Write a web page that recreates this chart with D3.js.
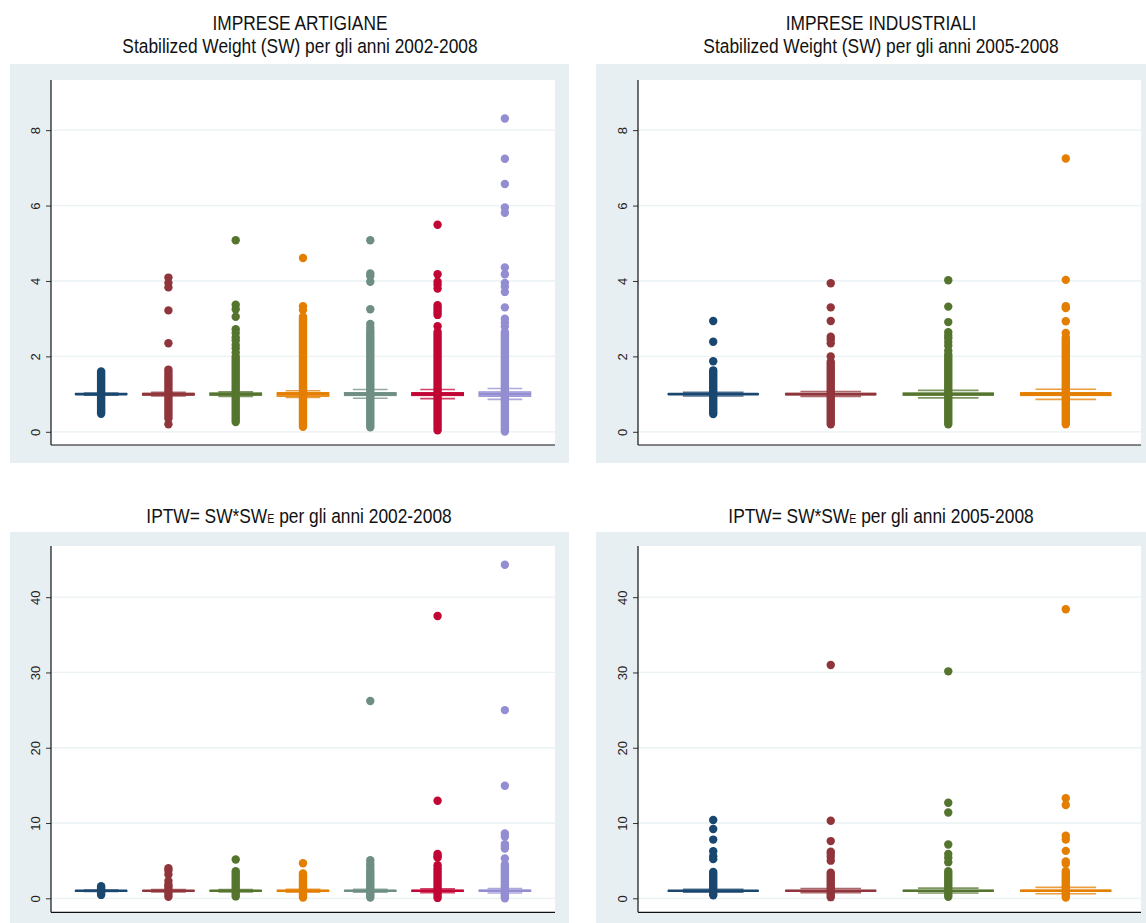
<!DOCTYPE html>
<html>
<head>
<meta charset="utf-8">
<script src="https://cdn.jsdelivr.net/npm/d3@7"></script>
<style>
  body { margin: 0; background: #fff; }
  svg { display: block; }
  .title { font-family: "Liberation Sans Narrow", "Arial Narrow", "Liberation Sans", sans-serif; fill: #111; }
  .tick-label { font-family: "Liberation Sans", Arial, sans-serif; font-size: 13px; fill: #222; }
</style>
</head>
<body>
<svg id="chart"></svg>
<script>
// Groups (years) for each set of firms
const yearsArt = ['2002', '2003', '2004', '2005', '2006', '2007', '2008'];
const yearsInd = ['2005', '2006', '2007', '2008'];

// Stata s2color palette, one colour per box
const boxColors = ['#1a476f', '#90353b', '#55752f', '#e37e00', '#6e8e84', '#c10534', '#938dd2'];

// Box summaries: [lower adjacent, p25, median, p75, upper adjacent]
const swArtBox = [
  [0.97, 0.99, 1, 1.01, 1.03],
  [0.95, 0.97, 1, 1.02, 1.05],
  [0.94, 0.97, 1, 1.03, 1.06],
  [0.91, 0.94, 1, 1.04, 1.09],
  [0.89, 0.96, 1, 1.04, 1.12],
  [0.88, 0.96, 1, 1.04, 1.12],
  [0.86, 0.94, 1, 1.06, 1.15]
];
// Dense runs of outliers (so many points that they form a solid column): [from, to]
const swArtRuns = [
  [[0.48, 1.6]],
  [[0.35, 1.65]],
  [[0.26, 2.0]],
  [[0.13, 3.05]],
  [[0.12, 2.68]],
  [[0.04, 2.65], [3.1, 3.36]],
  [[0.01, 2.65]]
];
// Isolated outliers
const swArtOut = [
  [],
  [4.09, 3.95, 3.83, 3.22, 2.35, 0.2],
  [5.08, 3.37, 3.25, 3.05, 2.72, 2.62, 2.5, 2.42, 2.3, 2.21, 2.1],
  [4.61, 3.33, 3.23],
  [5.08, 4.2, 4.13, 3.98, 3.25, 2.86, 2.76],
  [5.49, 4.18, 3.98, 3.9, 3.8, 2.8],
  [8.31, 7.24, 6.57, 5.95, 5.81, 4.36, 4.18, 3.95, 3.85, 3.71, 3.3, 3.0, 2.89, 2.79]
];

const swIndBox = [
  [0.95, 0.99, 1, 1.01, 1.05],
  [0.94, 0.98, 1, 1.02, 1.07],
  [0.9, 0.97, 1, 1.03, 1.1],
  [0.86, 0.96, 1, 1.04, 1.13]
];
const swIndRuns = [
  [[0.47, 1.63]],
  [[0.2, 1.86]],
  [[0.2, 2.05]],
  [[0.2, 2.5]]
];
const swIndOut = [
  [2.94, 2.39, 1.87],
  [3.94, 3.3, 2.94, 2.52, 2.45, 2.35, 2.0],
  [4.02, 3.32, 2.91, 2.64, 2.55, 2.48, 2.38, 2.28, 2.15],
  [7.25, 4.03, 3.33, 3.28, 2.93, 2.62]
];

const iptwArtBox = [
  [0.9, 0.98, 1, 1.02, 1.1],
  [0.85, 0.96, 1, 1.04, 1.15],
  [0.85, 0.96, 1, 1.04, 1.15],
  [0.8, 0.95, 1, 1.05, 1.2],
  [0.8, 0.95, 1, 1.05, 1.2],
  [0.75, 0.94, 1, 1.06, 1.25],
  [0.7, 0.93, 1, 1.08, 1.3]
];
const iptwArtRuns = [
  [[0.45, 1.6]],
  [[0.2, 1.6]],
  [[0.25, 3.6]],
  [[0.1, 3.3]],
  [[0.1, 3.6]],
  [[0.05, 4.0]],
  [[0.0, 4.5]]
];
const iptwArtOut = [
  [],
  [4.0, 3.7, 3.15, 2.3, 1.8],
  [5.15],
  [4.65],
  [26.2, 5.05, 4.6, 4.3, 3.9],
  [37.5, 12.95, 5.9, 5.6, 5.4, 4.4],
  [44.3, 25.0, 14.95, 8.6, 8.2, 7.2, 6.9, 6.6, 5.3]
];

const iptwIndBox = [
  [0.8, 0.97, 1, 1.03, 1.2],
  [0.75, 0.96, 1, 1.05, 1.3],
  [0.7, 0.95, 1, 1.06, 1.35],
  [0.6, 0.93, 1, 1.08, 1.45]
];
const iptwIndRuns = [
  [[0.4, 3.2]],
  [[0.15, 3.4]],
  [[0.2, 3.6]],
  [[0.1, 3.6]]
];
const iptwIndOut = [
  [10.4, 9.2, 7.8, 6.25, 5.6, 5.2, 3.5],
  [31.0, 10.3, 7.6, 6.2, 5.9, 5.5, 5.0],
  [30.15, 12.7, 11.4, 7.15, 5.9, 5.4, 4.8],
  [38.4, 13.3, 12.4, 8.3, 7.8, 6.3, 4.9, 4.6]
];

const swTicks = [0, 2, 4, 6, 8];
const iptwTicks = [0, 10, 20, 30, 40];

const width = 1146, height = 923;
const svg = d3.select('#chart').attr('width', width).attr('height', height);

function drawPanel(p) {
  const g = svg.append('g');

  // graph region background
  g.append('rect')
    .attr('x', p.bg[0]).attr('y', p.bg[1])
    .attr('width', p.bg[2]).attr('height', p.bg[3])
    .attr('fill', '#e8eff2');

  // plot region
  g.append('rect')
    .attr('x', p.left).attr('y', p.top)
    .attr('width', p.right - p.left).attr('height', p.bottom - p.top)
    .attr('fill', '#fff');

  const y = d3.scaleLinear().domain(p.domain).range([p.bottom, p.top]);
  const x = d3.scaleBand()
    .domain(p.groups)
    .range([p.left, p.right])
    .paddingInner(0.23)
    .paddingOuter(p.outer);

  // gridlines
  g.append('g')
    .selectAll('line')
    .data(p.ticks)
    .join('line')
    .attr('x1', p.left).attr('x2', p.right)
    .attr('y1', d => y(d)).attr('y2', d => y(d))
    .attr('stroke', '#eaf2f3')
    .attr('stroke-width', 1.3);

  // y axis
  const axis = g.append('g')
    .attr('transform', `translate(${p.left},0)`)
    .call(d3.axisLeft(y).tickValues(p.ticks).tickSize(5).tickPadding(4).tickFormat(d3.format('d')));
  axis.select('.domain').remove();
  axis.selectAll('.tick line').attr('stroke', '#333');
  axis.selectAll('.tick text')
    .attr('class', 'tick-label')
    .attr('transform', 'rotate(-90)')
    .attr('x', 0)
    .attr('y', -16)
    .attr('dy', '0.35em')
    .attr('text-anchor', 'middle');

  // axis lines
  g.append('line')
    .attr('x1', p.left).attr('x2', p.left)
    .attr('y1', p.top).attr('y2', p.bottom)
    .attr('stroke', '#111').attr('stroke-width', 1.2);
  g.append('line')
    .attr('x1', p.left).attr('x2', p.right)
    .attr('y1', p.bottom).attr('y2', p.bottom)
    .attr('stroke', '#111').attr('stroke-width', 1.2);

  const bw = x.bandwidth();
  const capW = bw * 0.67;

  p.groups.forEach((grp, i) => {
    const color = boxColors[i];
    const [lo, q1, med, q3, hi] = p.box[i];
    const cx = x(grp) + bw / 2;
    const bg = g.append('g');

    // whiskers
    bg.append('line')
      .attr('x1', cx).attr('x2', cx)
      .attr('y1', y(hi)).attr('y2', y(q3))
      .attr('stroke', color).attr('stroke-width', 1.2);
    bg.append('line')
      .attr('x1', cx).attr('x2', cx)
      .attr('y1', y(q1)).attr('y2', y(lo))
      .attr('stroke', color).attr('stroke-width', 1.2);

    // adjacent-value caps
    [lo, hi].forEach(v => {
      bg.append('line')
        .attr('x1', cx - capW / 2).attr('x2', cx + capW / 2)
        .attr('y1', y(v)).attr('y2', y(v))
        .attr('stroke', color).attr('stroke-width', 1.6)
        .attr('opacity', 0.75);
    });

    // box
    bg.append('rect')
      .attr('x', x(grp)).attr('width', bw)
      .attr('y', y(q3)).attr('height', Math.max(0.5, y(q1) - y(q3)))
      .attr('fill', color).attr('fill-opacity', 0.6)
      .attr('stroke', color).attr('stroke-width', 1);

    // median
    bg.append('line')
      .attr('x1', x(grp)).attr('x2', x(grp) + bw)
      .attr('y1', y(med)).attr('y2', y(med))
      .attr('stroke', color).attr('stroke-width', 2.6);

    // dense outlier columns
    bg.selectAll('line.run')
      .data(p.runs[i])
      .join('line')
      .attr('class', 'run')
      .attr('x1', cx).attr('x2', cx)
      .attr('y1', d => y(d[0])).attr('y2', d => y(d[1]))
      .attr('stroke', color)
      .attr('stroke-width', 8.4)
      .attr('stroke-linecap', 'round');

    // individual outliers
    bg.selectAll('circle')
      .data(p.out[i])
      .join('circle')
      .attr('cx', cx)
      .attr('cy', d => y(d))
      .attr('r', 4.2)
      .attr('fill', color);
  });

  // titles (condensed like the Stata export)
  p.titles.forEach((t, k) => {
    const txt = g.append('text')
      .attr('class', 'title')
      .attr('transform', `translate(${p.titleX},${p.titleY + k * 23}) scale(0.89,1)`)
      .attr('text-anchor', 'middle')
      .style('font-size', '19.5px');
    if (t.sub) {
      txt.append('tspan').text(t.text);
      txt.append('tspan').text(t.sub).style('font-size', '12px');
      txt.append('tspan').text(t.after);
    } else {
      txt.text(t.text);
    }
  });
}

drawPanel({
  groups: yearsArt, box: swArtBox, runs: swArtRuns, out: swArtOut,
  ticks: swTicks, domain: [-0.35, 9.33], outer: 0.36,
  bg: [10, 64, 559, 399], left: 51, right: 555, top: 80, bottom: 445,
  titleX: 300, titleY: 30,
  titles: [{ text: 'IMPRESE ARTIGIANE' }, { text: 'Stabilized Weight (SW) per gli anni 2002-2008' }]
});

drawPanel({
  groups: yearsInd, box: swIndBox, runs: swIndRuns, out: swIndOut,
  ticks: swTicks, domain: [-0.35, 9.33], outer: 0.255,
  bg: [596, 64, 560, 399], left: 638, right: 1141, top: 80, bottom: 445,
  titleX: 881, titleY: 30,
  titles: [{ text: 'IMPRESE INDUSTRIALI' }, { text: 'Stabilized Weight (SW) per gli anni 2005-2008' }]
});

drawPanel({
  groups: yearsArt, box: iptwArtBox, runs: iptwArtRuns, out: iptwArtOut,
  ticks: iptwTicks, domain: [-1.86, 46.8], outer: 0.36,
  bg: [10, 532, 559, 391], left: 51, right: 555, top: 546, bottom: 912.3,
  titleX: 299, titleY: 523,
  titles: [{ text: 'IPTW= SW*SW', sub: 'E', after: ' per gli anni 2002-2008' }]
});

drawPanel({
  groups: yearsInd, box: iptwIndBox, runs: iptwIndRuns, out: iptwIndOut,
  ticks: iptwTicks, domain: [-1.86, 46.8], outer: 0.255,
  bg: [596, 532, 560, 391], left: 638, right: 1141, top: 546, bottom: 912.3,
  titleX: 881, titleY: 523,
  titles: [{ text: 'IPTW= SW*SW', sub: 'E', after: ' per gli anni 2005-2008' }]
});
</script>
</body>
</html>
